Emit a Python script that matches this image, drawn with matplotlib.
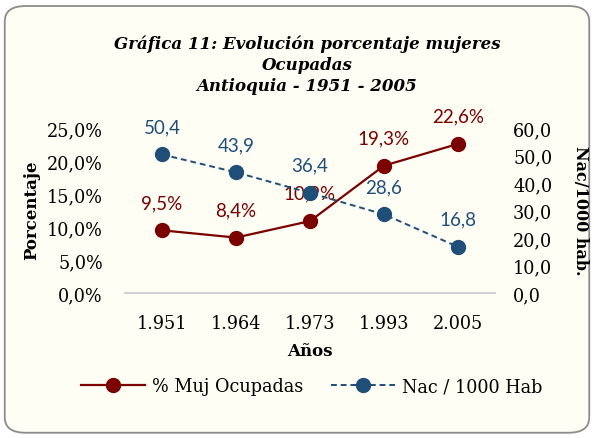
import matplotlib
matplotlib.use("Agg")
import matplotlib.pyplot as plt
from matplotlib.patches import FancyBboxPatch

years = ["1.951", "1.964", "1.973", "1.993", "2.005"]
muj_ocupadas = [9.5, 8.4, 10.9, 19.3, 22.6]      # % mujeres ocupadas
nac_1000 = [50.4, 43.9, 36.4, 28.6, 16.8]        # nacimientos / 1000 hab

red = "#7B0000"
blue = "#1F4E79"
bg = "#FEFEF4"
serif = "DejaVu Serif"
sans = "Lato"

fig = plt.figure(figsize=(5.94, 4.39), dpi=100)
fig.patch.set_facecolor("white")

# rounded chart frame, behind the axes
frame = FancyBboxPatch((0.008, 0.012), 0.984, 0.972, boxstyle="round,pad=0,rounding_size=0.035",
                       transform=fig.transFigure, facecolor=bg, edgecolor="#8C8C8C",
                       linewidth=1.3, zorder=-1)
fig.patches.append(frame)

ax = fig.add_axes([0.2104, 0.3303, 0.6229, 0.3757])
ax.patch.set_alpha(0)
ax2 = ax.twinx()
ax2.patch.set_alpha(0)

x = list(range(len(years)))
l1, = ax.plot(x, muj_ocupadas, color=red, lw=1.6, marker="o", ms=10, label="% Muj Ocupadas")
l2, = ax2.plot(x, nac_1000, color=blue, lw=1.4, ls=(0, (3, 2)), marker="o", ms=10, label="Nac / 1000 Hab")

ax.set_xlim(-0.5, 4.5)
ax.set_ylim(0, 25)
ax2.set_ylim(0, 60)
ax.set_yticks([0, 5, 10, 15, 20, 25])
ax.set_yticklabels([f"{v:.1f}%".replace(".", ",") for v in [0, 5, 10, 15, 20, 25]])
ax2.set_yticks([0, 10, 20, 30, 40, 50, 60])
ax2.set_yticklabels([f"{v:.1f}".replace(".", ",") for v in [0, 10, 20, 30, 40, 50, 60]])
ax.set_xticks(x)
ax.set_xticklabels(years)

for a in (ax, ax2):
    for s in ["top", "left", "right"]:
        a.spines[s].set_visible(False)
    a.spines["bottom"].set_color("#D0D0D0")
    a.spines["bottom"].set_linewidth(1.5)
    a.tick_params(length=0, labelsize=12.7)
    for t in a.get_xticklabels() + a.get_yticklabels():
        t.set_fontfamily(serif)
ax2.spines["bottom"].set_visible(False)
ax.tick_params(axis="y", pad=16)
ax.tick_params(axis="x", pad=15)
ax2.tick_params(axis="y", pad=13)

for xi, v in zip(x, muj_ocupadas):
    ax.annotate(f"{v:.1f}%".replace(".", ","), (xi, v), xytext=(0, 14), textcoords="offset points",
                ha="center", va="bottom", color=red, fontsize=13.5, family=sans)
for xi, v in zip(x, nac_1000):
    ax2.annotate(f"{v:.1f}".replace(".", ","), (xi, v), xytext=(0, 14), textcoords="offset points",
                 ha="center", va="bottom", color=blue, fontsize=13.5, family=sans)

ax.set_xlabel("Años", fontsize=12, fontweight="bold", family=serif, labelpad=7)
fig.text(0.053, 0.52, "Porcentaje", rotation=90, ha="center", va="center",
         fontsize=12, fontweight="bold", family=serif)
fig.text(0.978, 0.52, "Nac/1000 hab.", rotation=270, ha="center", va="center",
         fontsize=11.5, fontweight="bold", family=serif)

fig.text(0.517, 0.852, "Gráfica 11: Evolución porcentaje mujeres\nOcupadas\nAntioquia - 1951 - 2005",
         ha="center", va="center", fontsize=12, fontweight="bold", fontstyle="italic",
         family=serif, linespacing=1.3)

fig.legend(handles=[l1, l2], loc="center", bbox_to_anchor=(0.525, 0.118), ncol=2, frameon=False,
           prop={"family": serif, "size": 12.7}, handlelength=3.6, columnspacing=1.6, handletextpad=0.4)

fig.savefig("out.png", dpi=100, facecolor=fig.get_facecolor())
